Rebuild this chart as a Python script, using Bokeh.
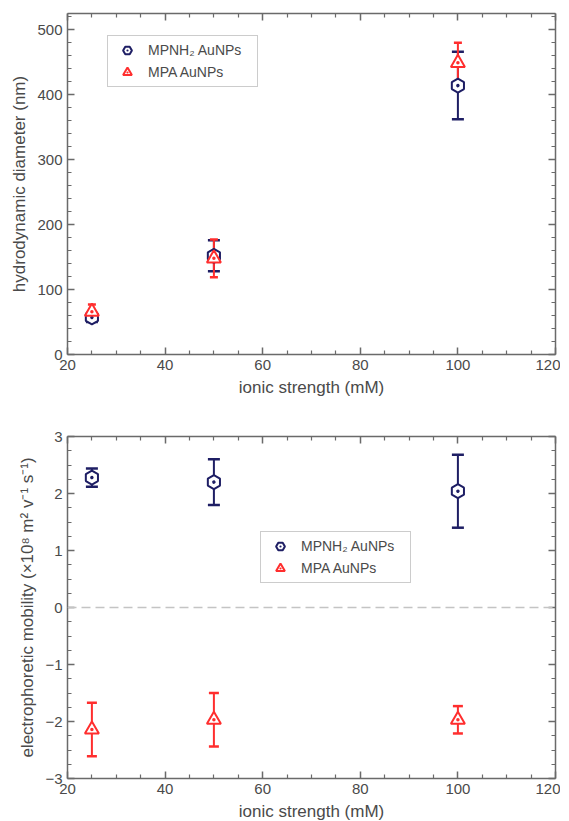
import math
from bokeh.plotting import figure
from bokeh.layouts import column
from bokeh.models import (ColumnDataSource, Whisker, TeeHead, Span, LinearAxis,
                          FixedTicker, Range1d, CustomJSTickFormatter, Legend)
from bokeh.embed import file_html
from bokeh.resources import INLINE

# ---------------- data ----------------
ionic_strength = [25, 50, 100]
x_ticks = [20, 40, 60, 80, 100, 120]

diam_mpnh2 = [57, 152, 414]
diam_mpnh2_err = [7, 24, 52]
diam_mpa = [66, 148, 449]
diam_mpa_err = [11, 29, 31]
diam_ticks = [0, 100, 200, 300, 400, 500]

mob_mpnh2 = [2.28, 2.20, 2.04]
mob_mpnh2_err = [0.16, 0.40, 0.64]
mob_mpa = [-2.14, -1.97, -1.97]
mob_mpa_err = [0.47, 0.47, 0.24]
mob_ticks = [-3, -2, -1, 0, 1, 2, 3]

label_mpnh2 = "MPNH\u2082 AuNPs"
label_mpa = "MPA AuNPs"

# ---------------- style ----------------
NAVY = "#1e1e64"
RED = "#ff2e2e"
TXT = "#4a4a4a"
AX = "#6a6a6a"
FONT = "Liberation Sans"


def style_axis(ax, ticks, minor, show_labels=True):
    ax.ticker = FixedTicker(ticks=ticks, minor_ticks=minor)
    ax.axis_line_color = AX
    ax.axis_line_width = 1.5
    ax.major_tick_line_color = AX
    ax.major_tick_line_width = 1.5
    ax.minor_tick_line_color = AX
    ax.minor_tick_line_width = 1.2
    ax.major_tick_in = 7
    ax.major_tick_out = 0
    ax.minor_tick_in = 4
    ax.minor_tick_out = 0
    ax.major_label_text_font = FONT
    ax.major_label_text_font_size = "15px"
    ax.major_label_text_color = TXT
    ax.major_label_standoff = 5
    ax.axis_label_text_font = FONT
    ax.axis_label_text_font_size = "17px"
    ax.axis_label_text_font_style = "normal"
    ax.axis_label_text_color = TXT
    ax.axis_label_standoff = 5
    if not show_labels:
        ax.formatter = CustomJSTickFormatter(code="return ''")
        ax.major_label_standoff = 0


def make_fig(y0, y1, yticks, yminor, ylabel, border_top, border_bottom, frame_h):
    p = figure(frame_width=488, frame_height=frame_h,
               x_range=Range1d(20, 120), y_range=Range1d(y0, y1),
               output_backend="svg", toolbar_location=None,
               min_border_left=67, min_border_right=5,
               min_border_top=border_top, min_border_bottom=border_bottom)
    p.xgrid.visible = False
    p.ygrid.visible = False
    p.outline_line_color = None
    p.background_fill_color = "white"
    p.border_fill_color = "white"
    xminor = [v for v in range(20, 121, 5) if v not in x_ticks]
    style_axis(p.xaxis[0], x_ticks, xminor)
    style_axis(p.yaxis[0], yticks, yminor)
    p.xaxis[0].axis_label = "ionic strength (mM)"
    p.yaxis[0].axis_label = ylabel
    top = LinearAxis()
    style_axis(top, x_ticks, xminor, show_labels=False)
    p.add_layout(top, "above")
    right = LinearAxis()
    style_axis(right, yticks, yminor, show_labels=False)
    p.add_layout(right, "right")
    return p


def add_series(p, xs, ys, errs, color, marker, size, head):
    src = ColumnDataSource(dict(x=xs, y=ys,
                                upper=[a + b for a, b in zip(ys, errs)],
                                lower=[a - b for a, b in zip(ys, errs)]))
    w = Whisker(base="x", upper="upper", lower="lower", source=src,
                line_color=color, line_width=2,
                upper_head=TeeHead(size=head, line_color=color, line_width=2.5),
                lower_head=TeeHead(size=head, line_color=color, line_width=2.5))
    p.add_layout(w)
    r = p.scatter("x", "y", source=src, marker=marker, size=size,
                  line_color=color, line_width=2, fill_color="white",
                  angle=(math.pi / 6 if marker == "hex_dot" else 0))
    return r


def add_legend(p, items, loc):
    lg = Legend(items=items, location=loc, orientation="vertical",
                label_text_font=FONT, label_text_font_size="14px",
                label_text_color=TXT, glyph_height=22, glyph_width=32,
                label_height=22, label_width=106, label_standoff=5,
                spacing=0, padding=3, margin=0,
                border_line_color="#9a9a9a", border_line_width=1.5,
                background_fill_color="white", background_fill_alpha=1)
    p.add_layout(lg, "center")


# ---------------- top: hydrodynamic diameter ----------------
p1 = make_fig(0, 525, diam_ticks, [v for v in range(0, 521, 20) if v % 100],
              "hydrodynamic diameter (nm)", 13, 50, 341)
r1 = add_series(p1, ionic_strength, diam_mpnh2, diam_mpnh2_err, NAVY, "hex_dot", 14, 12)
r2 = add_series(p1, ionic_strength, diam_mpa, diam_mpa_err, RED, "triangle_dot", 14, 8)
add_legend(p1, [(label_mpnh2, [r1]), (label_mpa, [r2])], (40, 267))

# ---------------- bottom: electrophoretic mobility ----------------
mob_minor = [v / 4 for v in range(-12, 13) if v % 4]
p2 = make_fig(-3, 3, mob_ticks, mob_minor,
              "electrophoretic mobility (\u00d710\u2078 m\u00b2 v\u207b\u00b9 s\u207b\u00b9)",
              32, 42, 342)
p2.add_layout(Span(location=0, dimension="width", line_color="#c4c4c4",
                   line_dash="9 5", line_width=1.5))
r3 = add_series(p2, ionic_strength, mob_mpnh2, mob_mpnh2_err, NAVY, "hex_dot", 14, 12)
r4 = add_series(p2, ionic_strength, mob_mpa, mob_mpa_err, RED, "triangle_dot", 14, 10)
add_legend(p2, [(label_mpnh2, [r3]), (label_mpa, [r4])], (193, 195))

layout = column(p1, p2, spacing=0)
open("out.html", "w").write(file_html(layout, INLINE))
